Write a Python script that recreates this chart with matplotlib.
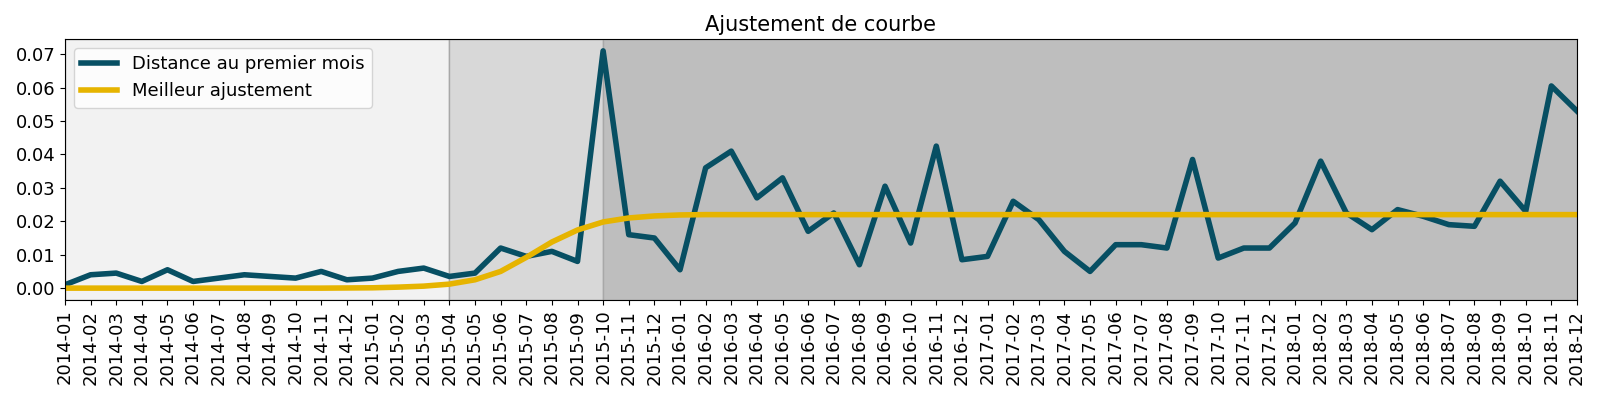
"""
Courbe de distance au premier mois et son meilleur ajustement
"""

import numpy as np
import matplotlib
matplotlib.use("Agg")
import matplotlib.pyplot as plt

plt.rc('font', size=13)

months = ["2014-01", "2014-02", "2014-03", "2014-04", "2014-05", "2014-06",
          "2014-07", "2014-08", "2014-09", "2014-10", "2014-11", "2014-12",
          "2015-01", "2015-02", "2015-03", "2015-04", "2015-05", "2015-06",
          "2015-07", "2015-08", "2015-09", "2015-10", "2015-11", "2015-12",
          "2016-01", "2016-02", "2016-03", "2016-04", "2016-05", "2016-06",
          "2016-07", "2016-08", "2016-09", "2016-10", "2016-11", "2016-12",
          "2017-01", "2017-02", "2017-03", "2017-04", "2017-05", "2017-06",
          "2017-07", "2017-08", "2017-09", "2017-10", "2017-11", "2017-12",
          "2018-01", "2018-02", "2018-03", "2018-04", "2018-05", "2018-06",
          "2018-07", "2018-08", "2018-09", "2018-10", "2018-11", "2018-12"]

distance = [0.001, 0.004, 0.0045, 0.002, 0.0055, 0.002,
            0.003, 0.004, 0.0035, 0.003, 0.005, 0.0025,
            0.003, 0.005, 0.006, 0.0035, 0.0045, 0.012,
            0.0095, 0.011, 0.008, 0.071, 0.016, 0.015,
            0.0055, 0.036, 0.041, 0.027, 0.033, 0.017,
            0.0225, 0.007, 0.0305, 0.0135, 0.0425, 0.0085,
            0.0095, 0.026, 0.0205, 0.011, 0.005, 0.013,
            0.013, 0.012, 0.0385, 0.009, 0.012, 0.012,
            0.0195, 0.038, 0.0225, 0.0175, 0.0235, 0.0215,
            0.019, 0.0185, 0.032, 0.023, 0.0605, 0.053]

ajustement = [0.0, 0.0, 0.0, 0.0, 0.0, 0.0,
              0.0, 0.0, 0.0, 0.0, 0.0, 0.00005,
              0.0001, 0.0003, 0.0006, 0.0012, 0.0025, 0.005,
              0.0092, 0.0138, 0.0174, 0.0198, 0.0210, 0.0216,
              0.0219, 0.0220, 0.0220, 0.0220, 0.0220, 0.0220,
              0.0220, 0.0220, 0.0220, 0.0220, 0.0220, 0.0220,
              0.0220, 0.0220, 0.0220, 0.0220, 0.0220, 0.0220,
              0.0220, 0.0220, 0.0220, 0.0220, 0.0220, 0.0220,
              0.0220, 0.0220, 0.0220, 0.0220, 0.0220, 0.0220,
              0.0220, 0.0220, 0.0220, 0.0220, 0.0220, 0.0220]

# periodes: avant, transition, apres
periods = [("2014-01", "2015-04", "#f2f2f2"),
           ("2015-04", "2015-10", "#d8d8d8"),
           ("2015-10", "2018-12", "#bebebe")]


if __name__ == "__main__":

    x = np.arange(len(months))

    fig = plt.figure(figsize=(16, 4), dpi=100)
    ax1 = fig.add_axes([0.0406, 0.25, 0.945, 0.6525])

    for start, end, col in periods:
        ax1.axvspan(months.index(start), months.index(end), facecolor=col,
                    edgecolor="#a8a8a8", linewidth=1, zorder=0)

    ax1.plot(x, distance, color="#074f63", linewidth=4,
             label="Distance au premier mois")
    ax1.plot(x, ajustement, color="#e6b400", linewidth=4,
             label="Meilleur ajustement")

    ax1.set_xlim(0, len(months) - 1)
    ax1.set_xticks(x)
    ax1.set_xticklabels(months, rotation=90)
    ax1.set_yticks([0.0, 0.01, 0.02, 0.03, 0.04, 0.05, 0.06, 0.07])
    ax1.set_title("Ajustement de courbe", fontsize=15)
    ax1.legend(loc="upper left")

    fig.savefig("out.png")
